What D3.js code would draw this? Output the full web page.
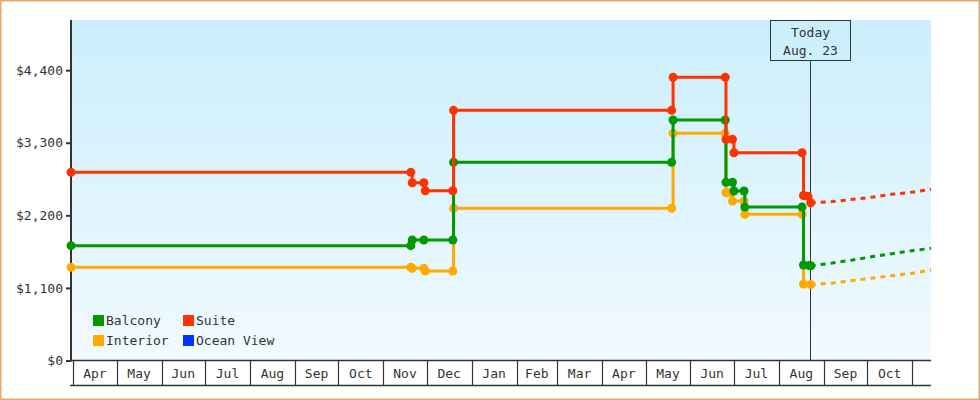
<!DOCTYPE html>
<html><head><meta charset="utf-8">
<script src="https://cdn.jsdelivr.net/npm/d3@7"></script>
<style>
html,body{margin:0;padding:0;background:#fff;}
svg text{font-family:"DejaVu Sans Mono","Liberation Mono",monospace;font-size:13px;fill:#333;}
</style></head>
<body><svg id="c" width="980" height="400"></svg>
<script>
// ---- data ----
const seriesNames = ["Balcony", "Suite", "Interior", "Ocean View"];
const monthLabels = ["Apr","May","Jun","Jul","Aug","Sep","Oct","Nov","Dec","Jan","Feb","Mar","Apr","May","Jun","Jul","Aug","Sep","Oct"];
const yTickValues = [0, 1100, 2200, 3300, 4400];
const todayDate = "2017-08-23";
const todayLabel = ["Today", "Aug. 23"];
const domainDates = ["2016-03-30T12:00", "2017-11-14"];
const yMax = 5160;

const balconyHistory = [
  ["2016-03-30T12:00",1740],["2016-11-20",1740],["2016-11-21",1826],["2016-11-29",1826],
  ["2016-12-19",1826],["2016-12-19T12:00",3003],["2017-05-19",3003],["2017-05-20",3644],
  ["2017-06-25",3644],["2017-06-25T12:00",2700],["2017-06-30",2700],["2017-07-01",2568],
  ["2017-07-08",2568],["2017-07-08T12:00",2325],["2017-08-17",2325],["2017-08-18",1447],
  ["2017-08-22",1440],["2017-08-23",1436]
];
const suiteHistory = [
  ["2016-03-30T12:00",2851],["2016-11-20",2851],["2016-11-21",2694],["2016-11-29",2694],
  ["2016-11-30",2573],["2016-12-19",2573],["2016-12-19T12:00",3791],["2017-05-19",3791],
  ["2017-05-20",4291],["2017-06-25",4291],["2017-06-25T12:00",3351],["2017-06-30",3351],
  ["2017-07-01",3148],["2017-08-17",3148],["2017-08-18",2500],["2017-08-21",2490],
  ["2017-08-23",2390]
];
const interiorHistory = [
  ["2016-03-30T12:00",1412],["2016-11-20",1412],["2016-11-21",1397],["2016-11-29",1397],
  ["2016-11-30",1356],["2016-12-19",1356],["2016-12-19T12:00",2306],["2017-05-19",2306],
  ["2017-05-20",3442],["2017-06-25",3442],["2017-06-25T12:00",2542],["2017-06-29",2542],
  ["2017-06-30",2416],["2017-07-08",2416],["2017-07-08T12:00",2215],["2017-08-17",2215],
  ["2017-08-18",1160],["2017-08-23",1150]
];
const oceanViewHistory = [];

const balconyForecast = [["2017-08-23",1436],["2017-09-07",1477],["2017-09-21",1523],["2017-10-05",1576],["2017-10-19",1621],["2017-11-02",1667],["2017-11-14",1700]];
const suiteForecast = [["2017-08-23",2390],["2017-09-07",2408],["2017-09-21",2442],["2017-10-05",2477],["2017-10-19",2522],["2017-11-02",2553],["2017-11-14",2594]];
const interiorForecast = [["2017-08-23",1150],["2017-09-07",1174],["2017-09-21",1212],["2017-10-05",1250],["2017-10-19",1288],["2017-11-02",1326],["2017-11-14",1371]];
const oceanViewForecast = [];

// ---- styles ----
const colors = {"Balcony":"#009900","Suite":"#ff3300","Interior":"#ffaa00","Ocean View":"#0033ff"};

const parse = s => new Date(s.length > 10 ? s + "Z" : s + "T00:00Z");
const svg = d3.select("#c");
const L = 71, R = 931, T = 20, B = 360.5;

const x = d3.scaleUtc().domain(domainDates.map(parse)).range([L, R]);
const y = d3.scaleLinear().domain([0, yMax]).range([B, T]);

// frame
svg.append("rect").attr("x",0.75).attr("y",0.75).attr("width",978.5).attr("height",398.5)
  .attr("fill","#fff").attr("stroke","#e6a866").attr("stroke-width",1.5);

// gradient
const defs = svg.append("defs");
const g = defs.append("linearGradient").attr("id","bg").attr("x1",0).attr("y1",0).attr("x2",0).attr("y2",1);
g.append("stop").attr("offset","0%").attr("stop-color","#caeefc");
g.append("stop").attr("offset","100%").attr("stop-color","#f2faff");
svg.append("rect").attr("x",L).attr("y",T).attr("width",R-L).attr("height",B-T).attr("fill","url(#bg)");

// y axis
const yAxis = d3.axisLeft(y).tickValues(yTickValues).tickSize(5).tickPadding(3)
  .tickFormat(v => "$" + d3.format(",")(v));
const ya = svg.append("g").attr("transform",`translate(${L},0)`).call(yAxis);
ya.select(".domain").remove();
ya.selectAll(".tick line").attr("stroke","#333").attr("stroke-width",2);
ya.selectAll("text").attr("fill","#333").style("font-size","13px").style("font-family","DejaVu Sans Mono, monospace");
svg.append("line").attr("x1",L).attr("x2",L).attr("y1",T).attr("y2",B+1).attr("stroke","#333").attr("stroke-width",2);

// x axis (month boxes)
const monthStarts = d3.utcMonth.range(parse("2016-04-01"), parse("2017-11-02"));
const xa = svg.append("g");
xa.append("line").attr("x1",L).attr("x2",R).attr("y1",360.5).attr("y2",360.5).attr("stroke","#333").attr("stroke-width",1.5);
xa.append("line").attr("x1",L-1).attr("x2",R).attr("y1",385.5).attr("y2",385.5).attr("stroke","#333").attr("stroke-width",1.5);
xa.selectAll("line.tk").data(monthStarts).join("line").attr("class","tk")
  .attr("x1",d=>Math.round(x(d))+0.5).attr("x2",d=>Math.round(x(d))+0.5)
  .attr("y1",360).attr("y2",385).attr("stroke","#333").attr("stroke-width",1.2);
xa.selectAll("text").data(monthLabels).join("text")
  .attr("x",(d,i)=>(x(monthStarts[i])+x(monthStarts[i+1]))/2)
  .attr("y",378).attr("text-anchor","middle").text(d=>d);

// today marker
const tx = Math.floor(x(parse(todayDate))) + 0.5;
svg.append("line").attr("x1",tx).attr("x2",tx).attr("y1",60).attr("y2",B).attr("stroke","#333").attr("stroke-width",1);
svg.append("rect").attr("x",tx-40).attr("y",20.5).attr("width",80).attr("height",40)
  .attr("fill","none").attr("stroke","#333").attr("stroke-width",1);
svg.append("text").attr("x",tx).attr("y",37).attr("text-anchor","middle").text(todayLabel[0]);
svg.append("text").attr("x",tx).attr("y",55).attr("text-anchor","middle").text(todayLabel[1]);

// series
const histories = {"Balcony":balconyHistory,"Suite":suiteHistory,"Interior":interiorHistory,"Ocean View":oceanViewHistory};
const forecasts = {"Balcony":balconyForecast,"Suite":suiteForecast,"Interior":interiorForecast,"Ocean View":oceanViewForecast};
const drawOrder = ["Ocean View","Interior","Balcony","Suite"];

const stepLine = d3.line().x(d=>x(parse(d[0]))).y(d=>y(d[1])).curve(d3.curveStepAfter);
const linLine = d3.line().x(d=>x(parse(d[0]))).y(d=>y(d[1]));

drawOrder.forEach(name => {
  const h = histories[name], f = forecasts[name], c = colors[name];
  const gg = svg.append("g");
  if (f.length) gg.append("path").attr("d", linLine(f)).attr("fill","none").attr("stroke",c)
    .attr("stroke-width",3).attr("stroke-dasharray","5,5");
  if (h.length) {
    gg.append("path").attr("d", stepLine(h)).attr("fill","none").attr("stroke",c).attr("stroke-width",3);
    gg.selectAll("circle").data(h).join("circle")
      .attr("cx",d=>x(parse(d[0]))).attr("cy",d=>y(d[1])).attr("r",4.5).attr("fill",c);
  }
});

// legend
const legendPos = [[93,315],[183,315],[93,335],[183,335]];
const lg = svg.append("g");
seriesNames.forEach((n,i) => {
  const [lx,ly] = legendPos[i];
  lg.append("rect").attr("x",lx).attr("y",ly).attr("width",11).attr("height",11).attr("fill",colors[n]);
  lg.append("text").attr("x",lx+13).attr("y",ly+10).text(n);
});
</script></body></html>
